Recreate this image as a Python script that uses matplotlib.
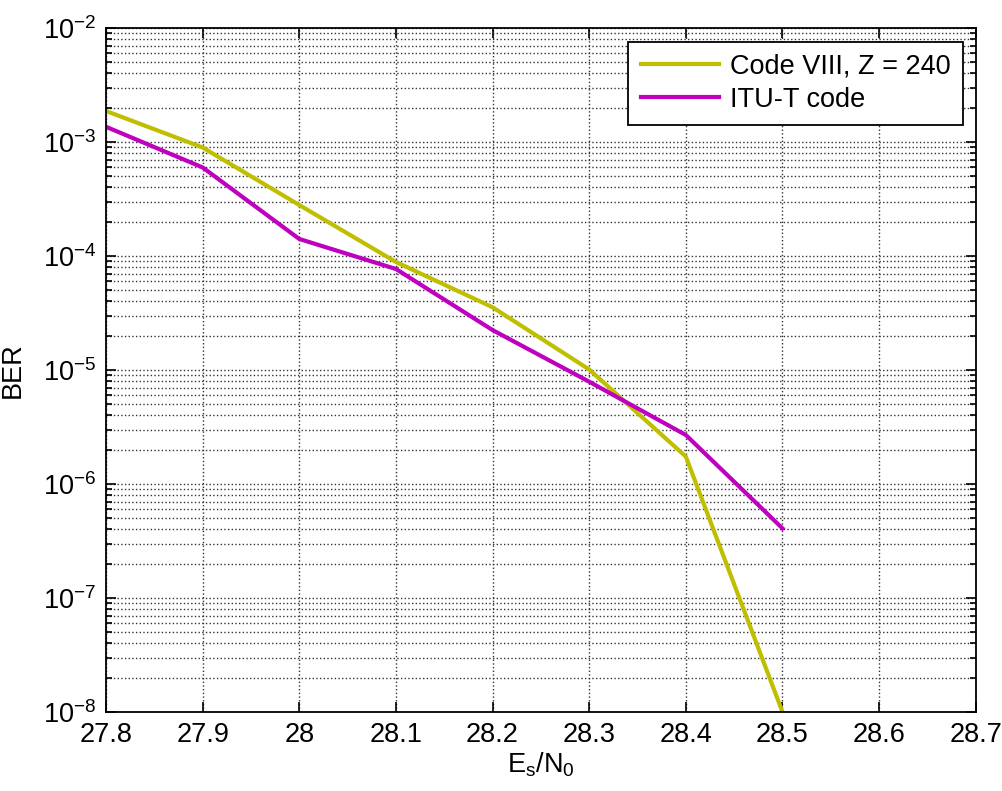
import matplotlib
matplotlib.use("Agg")
import matplotlib.pyplot as plt
from matplotlib.ticker import NullFormatter, FixedLocator

plt.rcParams['font.family'] = ['Liberation Sans', 'DejaVu Sans']
plt.rcParams['mathtext.fontset'] = 'custom'
plt.rcParams['mathtext.rm'] = 'Liberation Sans'
plt.rcParams['mathtext.it'] = 'Liberation Sans'
plt.rcParams['mathtext.default'] = 'regular'

es_n0 = [27.8, 27.9, 28.0, 28.1, 28.2, 28.3, 28.4, 28.5]
ber_code8 = [1.87e-3, 8.95e-4, 2.80e-4, 8.86e-5, 3.55e-5, 1.01e-5, 1.74e-6, 1.0e-8]
ber_itut = [1.36e-3, 5.98e-4, 1.41e-4, 7.69e-5, 2.24e-5, 7.89e-6, 2.69e-6, 4.08e-7]
labels = ['Code VIII, Z = 240', 'ITU-T code']
xticks = [27.8, 27.9, 28.0, 28.1, 28.2, 28.3, 28.4, 28.5, 28.6, 28.7]
xticklabels = ['27.8', '27.9', '28', '28.1', '28.2', '28.3', '28.4', '28.5', '28.6', '28.7']
yexps = [-8, -7, -6, -5, -4, -3, -2]

FS = 19.5

fig = plt.figure(figsize=(10.02, 7.91), dpi=100)
ax = fig.add_axes([0.1058, 0.0999, 0.868, 0.8647])

ax.semilogy(es_n0, ber_code8, color='#BFBF00', lw=3, label=labels[0], solid_joinstyle='miter')
ax.semilogy(es_n0, ber_itut, color='#BF00BF', lw=3, label=labels[1], solid_joinstyle='miter')

ax.set_xlim(27.8, 28.7)
ax.set_ylim(1e-8, 1e-2)
ax.set_xticks(xticks)
ax.set_xticklabels(xticklabels)
ax.xaxis.set_minor_locator(FixedLocator([]))
major_y = [10.0 ** e for e in yexps]
minor_y = [m * 10.0 ** e for e in yexps[:-1] for m in range(2, 10)]
ax.yaxis.set_major_locator(FixedLocator(major_y))
ax.yaxis.set_minor_locator(FixedLocator(minor_y))
ax.set_yticklabels([r'$10^{%d}$' % e for e in yexps])
ax.yaxis.set_minor_formatter(NullFormatter())

ax.grid(True, which='major', axis='both', linestyle=':', color='#333333', lw=1.0)
ax.grid(True, which='minor', axis='y', linestyle=':', color='#333333', lw=1.0)

ax.tick_params(which='both', direction='in', top=True, right=True, labelsize=FS, width=1.2)
ax.tick_params(which='major', length=7, pad=7)
ax.tick_params(which='minor', length=4)
for s in ax.spines.values():
    s.set_linewidth(1.3)

ax.set_xlabel(r'E$_{s}$/N$_{0}$', fontsize=FS, labelpad=2)
ax.set_ylabel('BER', fontsize=FS, labelpad=12)

leg = ax.legend(loc='upper right', bbox_to_anchor=(0.985, 0.98), borderaxespad=0,
                fontsize=FS, frameon=True, fancybox=False, edgecolor='black', framealpha=1,
                handlelength=2.9, handletextpad=0.4, borderpad=0.45, labelspacing=0.25)
leg.get_frame().set_linewidth(1.3)

fig.savefig('out.png', dpi=100)
